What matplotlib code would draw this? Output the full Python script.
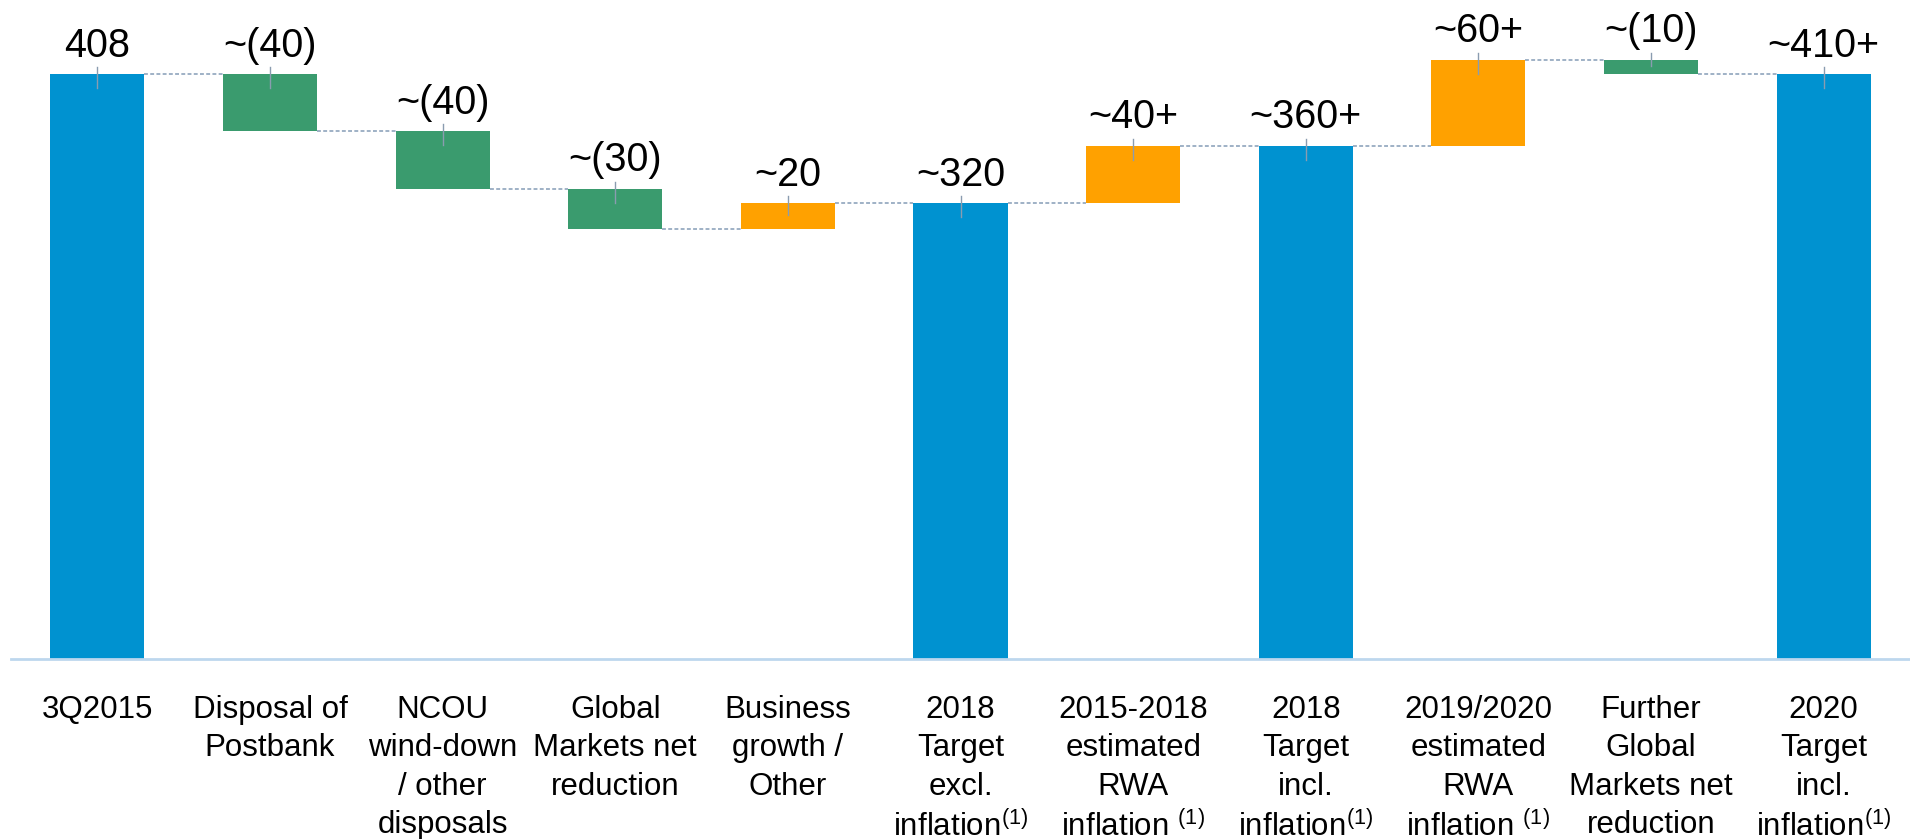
import matplotlib
matplotlib.use('Agg')
import matplotlib.pyplot as plt

# ---------------- data ----------------
categories = [
    "3Q2015",
    "Disposal of\nPostbank",
    "NCOU\nwind-down\n/ other\ndisposals",
    "Global\nMarkets net\nreduction",
    "Business\ngrowth /\nOther",
    "2018\nTarget\nexcl.\ninflation$^{(1)}$",
    "2015-2018\nestimated\nRWA\ninflation $^{(1)}$",
    "2018\nTarget\nincl.\ninflation$^{(1)}$",
    "2019/2020\nestimated\nRWA\ninflation $^{(1)}$",
    "Further\nGlobal\nMarkets net\nreduction",
    "2020\nTarget\nincl.\ninflation$^{(1)}$",
]
values = [408, -40, -40, -28, 18, 318, 40, 358, 60, -10, 408]
is_total = [True, False, False, False, False, True, False, True, False, False, True]
value_labels = ["408", "~(40)", "~(40)", "~(30)", "~20", "~320", "~40+",
                "~360+", "~60+", "~(10)", "~410+"]

# ---------------- style ----------------
fam = 'Liberation Sans'
plt.rcParams['font.family'] = [fam, 'DejaVu Sans']
plt.rcParams['mathtext.fontset'] = 'custom'
plt.rcParams['mathtext.rm'] = fam
plt.rcParams['mathtext.it'] = fam
plt.rcParams['mathtext.default'] = 'regular'

C_TOTAL = '#0092D0'
C_UP = '#FFA100'
C_DOWN = '#3A9B6E'
C_LINE = '#9FB1C6'
C_TICK = '#8A9CB0'
C_AXIS = '#BDD7EE'

fig = plt.figure(figsize=(19.10, 8.39), dpi=100)
ax = fig.add_axes([11 / 1910, 180 / 839, 1 - 11 / 1910, 0.769])
ax.set_xlim(-0.5, 10.5)
ax.set_ylim(0, 450)

# compute bars
bottoms, heights, tops, ends, colors = [], [], [], [], []
running = 0
for v, t in zip(values, is_total):
    if t:
        b, h = 0, v
        running = v
        c = C_TOTAL
    else:
        b = running if v > 0 else running + v
        h = abs(v)
        running += v
        c = C_UP if v > 0 else C_DOWN
    bottoms.append(b)
    heights.append(h)
    tops.append(b + h)
    ends.append(running)
    colors.append(c)

w = 0.545
x = list(range(len(values)))
ax.bar(x, heights, bottom=bottoms, width=w, color=colors, edgecolor='none', zorder=2)

fig.canvas.draw()
ppu = ax.transData.transform((0, 1))[1] - ax.transData.transform((0, 0))[1]

# connectors
for i in range(len(values) - 1):
    lvl = ends[i]
    ax.plot([i + w / 2, i + 1 - w / 2], [lvl, lvl], color=C_LINE, lw=1.4,
            ls=(0, (2.0, 1.2)), zorder=1)

# leader ticks and labels
for i in x:
    hpx = heights[i] * ppu
    below = min(14, 0.45 * hpx) / ppu
    above = 7 / ppu
    ax.plot([i, i], [tops[i] - below, tops[i] + above], color=C_TICK, lw=1.0, zorder=3)
    ax.annotate(value_labels[i], xy=(i, tops[i]), xytext=(0, 12.5),
                textcoords='offset points', ha='center', va='baseline',
                fontsize=28.5, color='black')

ax.set_xticks(x)
ax.set_xticklabels(categories, fontsize=22.5, linespacing=1.36)
ax.tick_params(axis='x', length=0, pad=26)
ax.set_yticks([])
for s in ['top', 'right', 'left']:
    ax.spines[s].set_visible(False)
ax.spines['bottom'].set_color(C_AXIS)
ax.spines['bottom'].set_linewidth(2.0)

fig.savefig('out.png', dpi=100)
